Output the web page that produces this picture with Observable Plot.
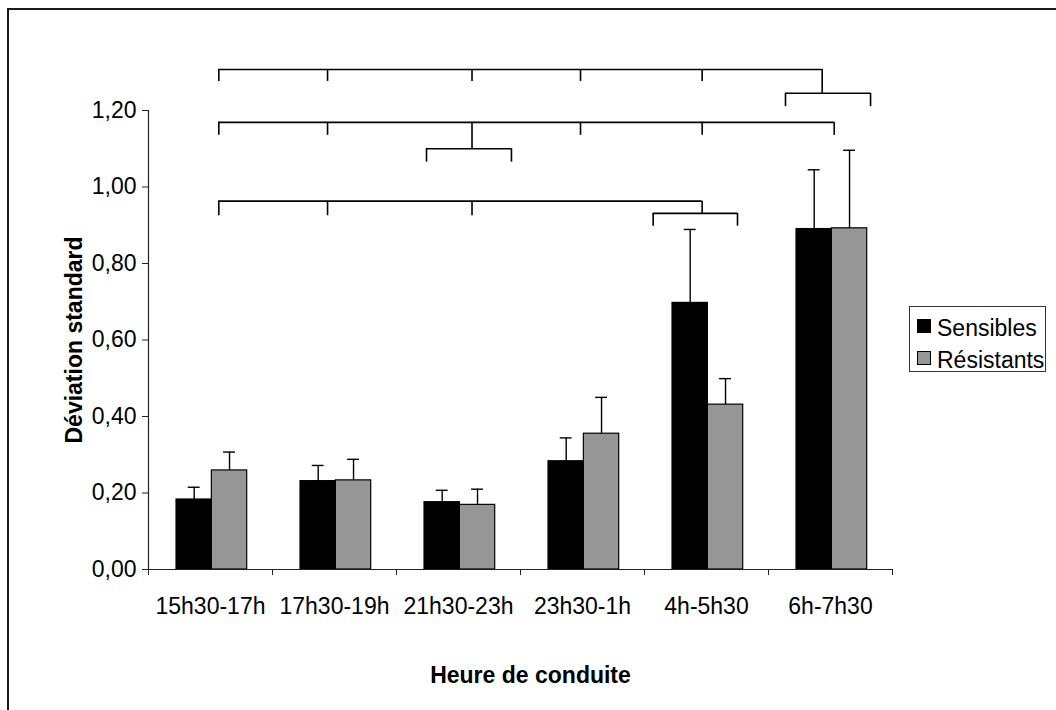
<!DOCTYPE html>
<html>
<head>
<meta charset="utf-8">
<script src="https://cdn.jsdelivr.net/npm/d3@7"></script>
<script src="https://cdn.jsdelivr.net/npm/@observablehq/plot@0.6"></script>
<style>
  html, body { margin: 0; padding: 0; background: #fff; overflow: hidden; }
  body { width: 1056px; height: 710px; position: relative; font-family: "Liberation Sans", Arial, sans-serif; }
  #frame { position: absolute; left: 7px; top: 8px; width: 1200px; height: 900px;
           border-left: 2px solid #1a1a1a; border-top: 2px solid #1a1a1a; }
  #chart { position: absolute; left: 0; top: 0; }
  #legend { position: absolute; left: 909px; top: 306px; width: 135px; height: 64px; border: 1px solid #333; background: #fff; }
  .lg-sw { position: absolute; width: 12px; height: 12px; border: 1px solid #000; }
  .lg-tx { position: absolute; font-size: 23px; line-height: 32px; color: #000; white-space: nowrap; }
</style>
</head>
<body>
<div id="frame"></div>
<div id="chart"></div>
<div id="legend"></div>
<script>
// ---- data ----
const categories = ["15h30-17h", "17h30-19h", "21h30-23h", "23h30-1h", "4h-5h30", "6h-7h30"];
const sensibles    = [0.183, 0.231, 0.176, 0.283, 0.697, 0.890];
const sensiblesErr = [0.032, 0.041, 0.031, 0.061, 0.192, 0.155];
const resistants    = [0.259, 0.233, 0.169, 0.355, 0.431, 0.892];
const resistantsErr = [0.048, 0.055, 0.041, 0.095, 0.068, 0.204];
const seriesNames  = ["Sensibles", "Résistants"];
const seriesColors = ["#000000", "#969696"];
const yTicks = [0, 0.2, 0.4, 0.6, 0.8, 1.0, 1.2];
const xTitle = "Heure de conduite";
const yTitle = "Déviation standard";

// significance brackets (x in category units, y in value units)
const bracketLevels  = [1.307, 1.169, 0.963];
const bracketDrops   = [1.276, 1.135, 0.925];
const bracketTicks   = [[0.567, 1.444, 2.609, 3.484, 4.465], [0.567, 1.444, 3.484, 4.465, 5.53], [0.567, 1.444, 2.609]];
const bracketStems   = [5.433, 2.609, 4.465];
const subLevels      = [1.245, 1.10, 0.931];
const subStarts      = [5.137, 2.242, 4.07];
const subEnds        = [5.823, 2.927, 4.75];
const subDrops       = [1.21, 1.065, 0.8975];

// ---- build tables ----
const barOffset = 0.226, barW = 0.285;
const seriesVals = [sensibles, resistants];
const seriesErrs = [sensiblesErr, resistantsErr];
const bars = categories.flatMap((c, i) => seriesNames.map((s, k) => {
  const x1 = i + barOffset + k * barW;
  return {category: c, series: s, x1, x2: x1 + barW, xc: x1 + barW / 2,
          value: seriesVals[k][i], top: seriesVals[k][i] + seriesErrs[k][i]};
}));
const capHalf = 0.048;

const hSegs = [], vSegs = [];
bracketLevels.forEach((y, b) => {
  const xs = bracketTicks[b].concat([bracketStems[b]]);
  hSegs.push({x1: d3.min(xs), x2: d3.max(xs), y});
  bracketTicks[b].forEach(x => vSegs.push({x, y1: y, y2: bracketDrops[b]}));
  vSegs.push({x: bracketStems[b], y1: y, y2: subLevels[b]});
  hSegs.push({x1: subStarts[b], x2: subEnds[b], y: subLevels[b]});
  vSegs.push({x: subStarts[b], y1: subLevels[b], y2: subDrops[b]});
  vSegs.push({x: subEnds[b], y1: subLevels[b], y2: subDrops[b]});
});

const fmt = d => d.toFixed(2).replace(".", ",");

const chart = Plot.plot({
  width: 1056,
  height: 710,
  marginLeft: 148,
  marginRight: 164,
  marginTop: 110,
  marginBottom: 141,
  style: {fontFamily: "'Liberation Sans', Arial, sans-serif", fontSize: "23px", color: "#000", background: "transparent", overflow: "visible"},
  x: {type: "linear", domain: [0, categories.length], axis: null},
  y: {domain: [0, 1.2], axis: null},
  color: {domain: seriesNames, range: seriesColors},
  marks: [
    Plot.rectY(bars, {x1: "x1", x2: "x2", y1: 0, y2: "value", fill: "series", stroke: "#000", strokeWidth: 1.2}),
    Plot.ruleX(bars, {x: "xc", y1: "value", y2: "top", stroke: "#000", strokeWidth: 1.4}),
    Plot.ruleY(bars, {y: "top", x1: d => d.xc - capHalf, x2: d => d.xc + capHalf, stroke: "#000", strokeWidth: 1.4}),
    Plot.ruleX([0], {y1: 0, y2: 1.2, stroke: "#222", strokeWidth: 1.2}),
    Plot.ruleY([0], {x1: 0, x2: categories.length, stroke: "#222", strokeWidth: 1.2}),
    Plot.axisY({ticks: yTicks, tickFormat: fmt, tickSize: 6, tickPadding: 6, stroke: "#222"}),
    Plot.axisX({ticks: d3.range(categories.length + 1), tickFormat: () => "", tickSize: 6, stroke: "#222"}),
    Plot.axisX({ticks: categories.map((c, i) => i + 0.5), tickFormat: v => categories[Math.floor(v)], tickSize: 0, tickPadding: 28}),
    Plot.ruleY(hSegs, {y: "y", x1: "x1", x2: "x2", stroke: "#000", strokeWidth: 1.6}),
    Plot.ruleX(vSegs, {x: "x", y1: "y1", y2: "y2", stroke: "#000", strokeWidth: 1.6}),
    Plot.text([xTitle], {frameAnchor: "bottom", textAnchor: "middle", lineAnchor: "bottom", dx: 10, dy: 113, fontWeight: "bold", fontSize: 23}),
    Plot.text([yTitle], {frameAnchor: "left", textAnchor: "middle", lineAnchor: "bottom", rotate: -90, dx: -67, fontWeight: "bold", fontSize: 23})
  ]
});
document.getElementById("chart").appendChild(chart);

// legend
const legend = document.getElementById("legend");
const swTops = [12, 43.7];
const txTops = [4.7, 36.7];
seriesNames.forEach((s, k) => {
  const sw = document.createElement("div");
  sw.className = "lg-sw";
  sw.style.left = "7px";
  sw.style.top = swTops[k] + "px";
  sw.style.background = seriesColors[k];
  legend.appendChild(sw);
  const tx = document.createElement("div");
  tx.className = "lg-tx";
  tx.style.left = "27px";
  tx.style.top = txTops[k] + "px";
  tx.textContent = s;
  legend.appendChild(tx);
});
</script>
</body>
</html>
